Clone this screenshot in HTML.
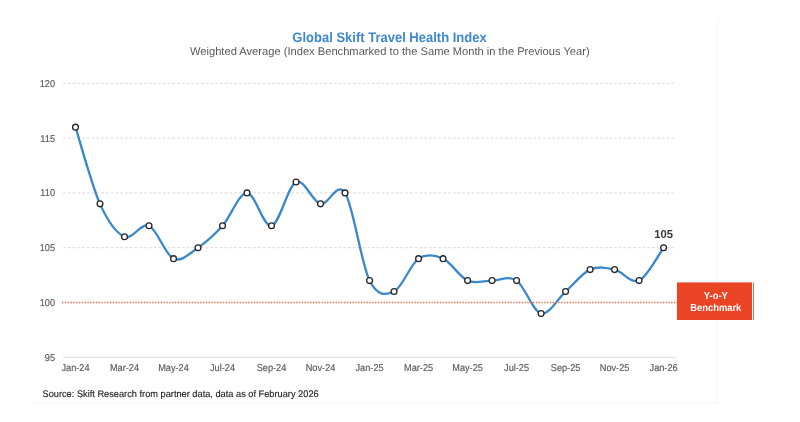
<!DOCTYPE html>
<html><head><meta charset="utf-8"><style>
html,body{margin:0;padding:0;background:#fff;}
body{width:800px;height:422px;overflow:hidden;}
svg{display:block;will-change:transform;text-rendering:geometricPrecision;font-family:"Liberation Sans",sans-serif;}
</style></head><body>
<svg width="800" height="422" viewBox="0 0 800 422">
<rect x="0" y="0" width="800" height="422" fill="#fff"/>
<line x1="717.3" y1="19.3" x2="717.3" y2="403.3" stroke="#f4f4f4" stroke-width="1"/>
<line x1="34" y1="403.3" x2="717.3" y2="403.3" stroke="#f5f5f5" stroke-width="1"/>
<g font-size="13" font-weight="bold" fill="#3d88d0">
<text transform="translate(389.50,41.70) scale(1,1.06)" text-anchor="middle">Global Skift Travel Health Index</text>
</g>
<g font-size="11.15" fill="#595959">
<text transform="translate(389.80,54.70) scale(1,1.0)" text-anchor="middle">Weighted Average (Index Benchmarked to the Same Month in the Previous Year)</text>
</g>
<g>
<line x1="63.2" y1="83.30" x2="675.9" y2="83.30" stroke="#d9d9d9" stroke-width="1" stroke-dasharray="2.75 2"/>
<line x1="63.2" y1="138.10" x2="675.9" y2="138.10" stroke="#d9d9d9" stroke-width="1" stroke-dasharray="2.75 2"/>
<line x1="63.2" y1="192.90" x2="675.9" y2="192.90" stroke="#d9d9d9" stroke-width="1" stroke-dasharray="2.75 2"/>
<line x1="63.2" y1="247.70" x2="675.9" y2="247.70" stroke="#d9d9d9" stroke-width="1" stroke-dasharray="2.75 2"/>
</g>
<line x1="63.2" y1="357.30" x2="675.9" y2="357.30" stroke="#d9d9d9" stroke-width="1"/>
<g font-size="9.2" fill="#595959" stroke="#595959" stroke-width="0.15">
<text transform="translate(55.00,86.70) scale(1,1.08)" text-anchor="end">120</text>
<text transform="translate(55.00,141.50) scale(1,1.08)" text-anchor="end">115</text>
<text transform="translate(55.00,196.30) scale(1,1.08)" text-anchor="end">110</text>
<text transform="translate(55.00,251.10) scale(1,1.08)" text-anchor="end">105</text>
<text transform="translate(55.00,305.90) scale(1,1.08)" text-anchor="end">100</text>
<text transform="translate(55.00,360.70) scale(1,1.08)" text-anchor="end">95</text>
<text transform="translate(75.50,371.00) scale(1,1.08)" text-anchor="middle">Jan-24</text>
<text transform="translate(124.51,371.00) scale(1,1.08)" text-anchor="middle">Mar-24</text>
<text transform="translate(173.52,371.00) scale(1,1.08)" text-anchor="middle">May-24</text>
<text transform="translate(222.53,371.00) scale(1,1.08)" text-anchor="middle">Jul-24</text>
<text transform="translate(271.53,371.00) scale(1,1.08)" text-anchor="middle">Sep-24</text>
<text transform="translate(320.54,371.00) scale(1,1.08)" text-anchor="middle">Nov-24</text>
<text transform="translate(369.55,371.00) scale(1,1.08)" text-anchor="middle">Jan-25</text>
<text transform="translate(418.56,371.00) scale(1,1.08)" text-anchor="middle">Mar-25</text>
<text transform="translate(467.57,371.00) scale(1,1.08)" text-anchor="middle">May-25</text>
<text transform="translate(516.57,371.00) scale(1,1.08)" text-anchor="middle">Jul-25</text>
<text transform="translate(565.58,371.00) scale(1,1.08)" text-anchor="middle">Sep-25</text>
<text transform="translate(614.59,371.00) scale(1,1.08)" text-anchor="middle">Nov-25</text>
<text transform="translate(663.60,371.00) scale(1,1.08)" text-anchor="middle">Jan-26</text>
</g>
<path d="M75.50,127.14 C79.59,139.93 91.84,185.59 100.01,203.86 C108.17,222.13 116.34,233.09 124.51,236.74 C132.68,240.39 140.85,222.13 149.01,225.78 C157.18,229.43 165.35,255.01 173.52,258.66 C181.69,262.31 189.85,253.18 198.02,247.70 C206.19,242.22 214.36,234.91 222.53,225.78 C230.69,216.65 238.86,192.90 247.03,192.90 C255.20,192.90 263.37,227.61 271.53,225.78 C279.70,223.95 287.87,185.59 296.04,181.94 C304.21,178.29 312.37,202.03 320.54,203.86 C328.71,205.69 336.88,180.11 345.05,192.90 C353.21,205.69 361.38,264.14 369.55,280.58 C377.72,297.02 385.89,295.19 394.05,291.54 C402.22,287.89 410.39,264.14 418.56,258.66 C426.73,253.18 434.89,255.01 443.06,258.66 C451.23,262.31 459.40,276.93 467.57,280.58 C475.73,284.23 483.90,280.58 492.07,280.58 C500.24,280.58 508.41,275.10 516.57,280.58 C524.74,286.06 532.91,311.63 541.08,313.46 C549.25,315.29 557.41,298.85 565.58,291.54 C573.75,284.23 581.92,273.27 590.09,269.62 C598.25,265.97 606.42,267.79 614.59,269.62 C622.76,271.45 630.93,284.23 639.09,280.58 C647.26,276.93 659.51,253.18 663.60,247.70" fill="none" stroke="#3b87cc" stroke-width="2.3" stroke-linejoin="round" stroke-linecap="round"/>
<line x1="62" y1="302.50" x2="677" y2="302.50" stroke="#ec6a50" stroke-width="1.5" stroke-dasharray="1.4 1.42"/>
<g fill="#fff" stroke="#262626" stroke-width="1.3">
<circle cx="75.50" cy="127.14" r="2.9"/>
<circle cx="100.01" cy="203.86" r="2.9"/>
<circle cx="124.51" cy="236.74" r="2.9"/>
<circle cx="149.01" cy="225.78" r="2.9"/>
<circle cx="173.52" cy="258.66" r="2.9"/>
<circle cx="198.02" cy="247.70" r="2.9"/>
<circle cx="222.53" cy="225.78" r="2.9"/>
<circle cx="247.03" cy="192.90" r="2.9"/>
<circle cx="271.53" cy="225.78" r="2.9"/>
<circle cx="296.04" cy="181.94" r="2.9"/>
<circle cx="320.54" cy="203.86" r="2.9"/>
<circle cx="345.05" cy="192.90" r="2.9"/>
<circle cx="369.55" cy="280.58" r="2.9"/>
<circle cx="394.05" cy="291.54" r="2.9"/>
<circle cx="418.56" cy="258.66" r="2.9"/>
<circle cx="443.06" cy="258.66" r="2.9"/>
<circle cx="467.57" cy="280.58" r="2.9"/>
<circle cx="492.07" cy="280.58" r="2.9"/>
<circle cx="516.57" cy="280.58" r="2.9"/>
<circle cx="541.08" cy="313.46" r="2.9"/>
<circle cx="565.58" cy="291.54" r="2.9"/>
<circle cx="590.09" cy="269.62" r="2.9"/>
<circle cx="614.59" cy="269.62" r="2.9"/>
<circle cx="639.09" cy="280.58" r="2.9"/>
<circle cx="663.60" cy="247.70" r="2.9"/>
</g>
<g font-size="11.2" font-weight="bold" fill="#3a3a3a">
<text transform="translate(663.60,238.00) scale(1,1.03)" text-anchor="middle">105</text>
</g>
<rect x="676.9" y="282.4" width="75.1" height="37.6" fill="#eb4425"/>
<rect x="753" y="282.4" width="0.8" height="37.6" fill="#eb4425"/>
<g font-size="9.4" font-weight="bold" fill="#fff">
<text transform="translate(715.80,299.40) scale(1,1.1)" text-anchor="middle">Y-o-Y</text>
<text transform="translate(715.80,310.50) scale(1,1.08)" text-anchor="middle">Benchmark</text>
</g>
<g font-size="9.24" fill="#1a1a1a" stroke="#1a1a1a" stroke-width="0.12">
<text transform="translate(42.50,397.30) scale(1,1.03)" text-anchor="start">Source: Skift Research from partner data, data as of February 2026</text>
</g>
</svg>
</body></html>
